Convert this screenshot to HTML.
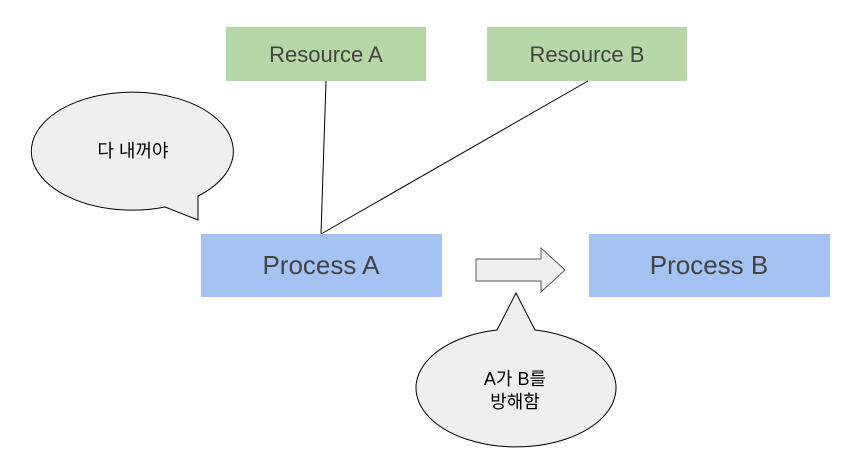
<!DOCTYPE html>
<html><head><meta charset="utf-8"><style>body{margin:0;background:#fff}svg{display:block}text{font-family:"Liberation Sans","Noto Sans CJK KR",sans-serif}</style></head>
<body>
<svg width="866" height="474" viewBox="0 0 866 474" xmlns="http://www.w3.org/2000/svg">
<rect x="226" y="27" width="200" height="54" fill="#b6d7a8"/>
<rect x="487" y="27" width="200" height="54" fill="#b6d7a8"/>
<text x="326" y="62" font-size="22" fill="#434343" text-anchor="middle">Resource A</text>
<text x="587" y="62" font-size="22" fill="#434343" text-anchor="middle">Resource B</text>
<line x1="326" y1="81" x2="321" y2="234" stroke="#000" stroke-width="1"/>
<line x1="588" y1="81" x2="321" y2="234" stroke="#000" stroke-width="1"/>
<rect x="201" y="234" width="241" height="63" fill="#a4c2f4"/>
<rect x="589" y="234" width="241" height="63" fill="#a4c2f4"/>
<text x="321" y="274" font-size="26" fill="#434343" text-anchor="middle">Process A</text>
<text x="709" y="274" font-size="26" fill="#434343" text-anchor="middle">Process B</text>
<path d="M165,207 A101,59 0 1 1 198,196 L198,220 Z" fill="#efefef" stroke="#000" stroke-width="1"/>
<text x="133" y="157" font-size="18" fill="#000" text-anchor="middle">다 내꺼야</text>
<path d="M476,259 L541,259 L541,248 L565,270 L541,292 L541,281 L476,281 Z" fill="#efefef" stroke="#595959" stroke-width="1"/>
<path d="M497,330 L516,293 L535,330 A100,59 0 1 1 497,330 Z" fill="#efefef" stroke="#000" stroke-width="1"/>
<text x="515" y="385" font-size="18" fill="#000" text-anchor="middle">A가 B를</text>
<text x="515" y="408" font-size="18" fill="#000" text-anchor="middle">방해함</text>
</svg>
</body></html>
